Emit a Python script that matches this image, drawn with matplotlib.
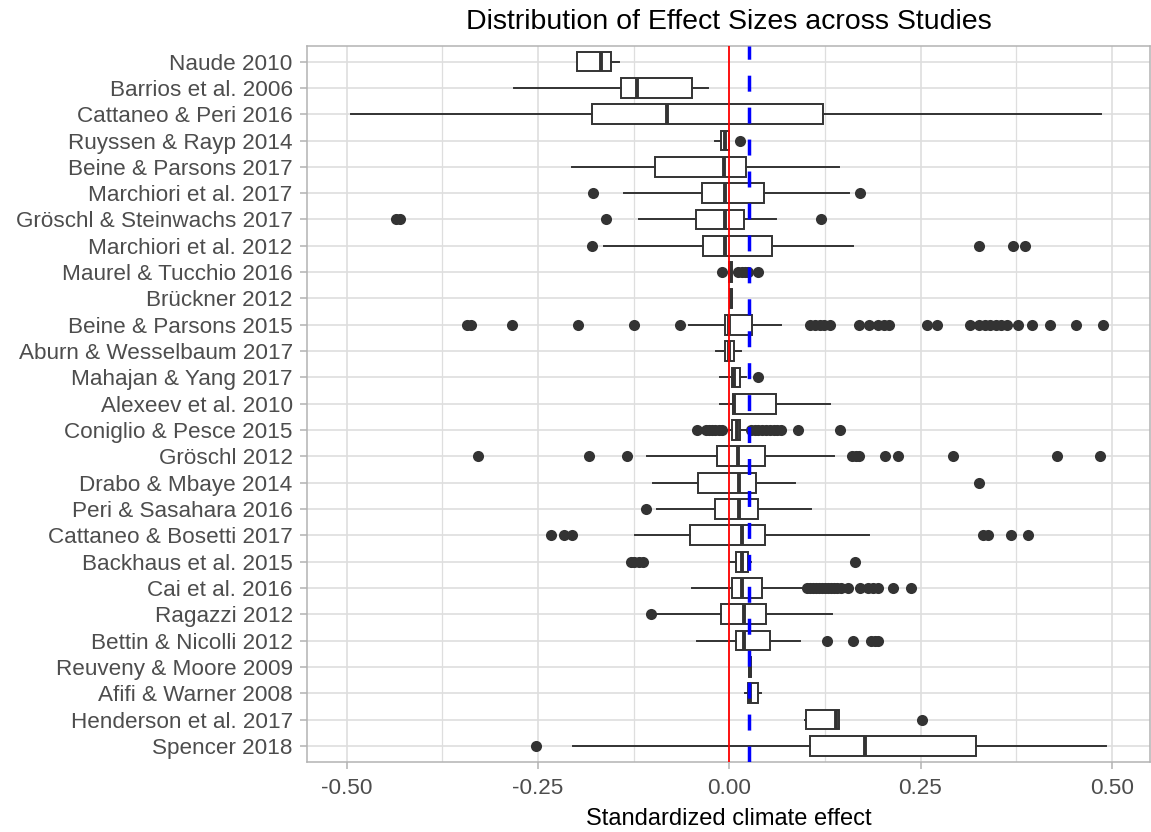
import matplotlib
matplotlib.use("Agg")
import matplotlib.pyplot as plt
import numpy as np

plt.rcParams['font.family'] = ['Liberation Sans', 'DejaVu Sans']

# ---------------- data (top to bottom) ----------------
studies = [
    "Naude 2010", "Barrios et al. 2006", "Cattaneo & Peri 2016", "Ruyssen & Rayp 2014",
    "Beine & Parsons 2017", "Marchiori et al. 2017", "Gröschl & Steinwachs 2017",
    "Marchiori et al. 2012", "Maurel & Tucchio 2016", "Brückner 2012",
    "Beine & Parsons 2015", "Aburn & Wesselbaum 2017", "Mahajan & Yang 2017",
    "Alexeev et al. 2010", "Coniglio & Pesce 2015", "Gröschl 2012", "Drabo & Mbaye 2014",
    "Peri & Sasahara 2016", "Cattaneo & Bosetti 2017", "Backhaus et al. 2015",
    "Cai et al. 2016", "Ragazzi 2012", "Bettin & Nicolli 2012", "Reuveny & Moore 2009",
    "Afifi & Warner 2008", "Henderson et al. 2017", "Spencer 2018",
]
whislo = [-0.199, -0.282, -0.494, -0.019, -0.206, -0.138, -0.118, -0.164, -0.001, 0.001,
          -0.052, -0.017, -0.0115, -0.0115, -0.004, -0.107, -0.100, -0.095, -0.123, 0.0013,
          -0.049, -0.096, -0.042, 0.026, 0.020, 0.099, -0.204]
q1 = [-0.199, -0.142, -0.180, -0.011, -0.097, -0.036, -0.044, -0.034, -0.001, 0.001,
      -0.005, -0.0055, 0.004, 0.0045, 0.004, -0.016, -0.041, -0.018, -0.051, 0.009,
      0.004, -0.011, 0.009, 0.026, 0.024, 0.100, 0.1055]
median = [-0.168, -0.1205, -0.082, -0.006, -0.007, -0.005, -0.005, -0.005, 0.001, 0.002,
          -0.001, -0.001, 0.006, 0.006, 0.0095, 0.011, 0.013, 0.013, 0.016, 0.016,
          0.016, 0.019, 0.019, 0.027, 0.027, 0.139, 0.178]
q3 = [-0.154, -0.0486, 0.123, -0.001, 0.022, 0.045, 0.019, 0.0555, 0.003, 0.004,
      0.030, 0.0068, 0.0146, 0.0605, 0.0146, 0.047, 0.035, 0.0375, 0.047, 0.025,
      0.0426, 0.048, 0.053, 0.028, 0.038, 0.144, 0.323]
whishi = [-0.144, -0.0277, 0.486, -0.001, 0.144, 0.157, 0.061, 0.162, 0.003, 0.004,
          0.068, 0.015, 0.022, 0.132, 0.022, 0.137, 0.086, 0.107, 0.182, 0.029,
          0.097, 0.134, 0.093, 0.028, 0.041, 0.144, 0.493]
outliers = [
    [],
    [],
    [],
    [0.014],
    [],
    [-0.178, 0.171],
    [-0.436, -0.430, -0.161, 0.120],
    [-0.180, 0.327, 0.371, 0.386],
    [-0.010, 0.012, 0.016, 0.020, 0.024, 0.037],
    [],
    [-0.343, -0.337, -0.284, -0.198, -0.124, -0.064, 0.105, 0.112, 0.118, 0.124, 0.131,
     0.169, 0.182, 0.195, 0.202, 0.209, 0.259, 0.272, 0.314, 0.327, 0.334, 0.341, 0.348,
     0.355, 0.363, 0.378, 0.396, 0.419, 0.453, 0.488],
    [],
    [0.0375],
    [],
    [-0.042, -0.030, -0.026, -0.022, -0.018, -0.014, -0.010, 0.028, 0.033, 0.038, 0.043,
     0.048, 0.053, 0.058, 0.063, 0.067, 0.090, 0.145],
    [-0.329, -0.183, -0.134, 0.160, 0.166, 0.170, 0.204, 0.220, 0.293, 0.428, 0.485],
    [0.327],
    [-0.109],
    [-0.233, -0.216, -0.205, 0.332, 0.338, 0.368, 0.390],
    [-0.129, -0.124, -0.118, -0.113, 0.164],
    [0.101, 0.105, 0.109, 0.113, 0.117, 0.121, 0.125, 0.129, 0.133, 0.137, 0.141, 0.146,
     0.155, 0.171, 0.181, 0.188, 0.195, 0.214, 0.237],
    [-0.102],
    [0.128, 0.162, 0.185, 0.190, 0.195],
    [],
    [],
    [0.252],
    [-0.253],
]
mean_effect = 0.0256
x_ticks = [-0.50, -0.25, 0.00, 0.25, 0.50]
x_tick_labels = ["-0.50", "-0.25", "0.00", "0.25", "0.50"]

# ---------------- figure ----------------
fig = plt.figure(figsize=(11.51, 8.32), dpi=100)
ax = fig.add_axes([0.267, 0.0845, 0.732, 0.8605])

n = len(studies)
positions = np.arange(n, 0, -1)
stats = []
for i in range(n):
    stats.append(dict(whislo=whislo[i], q1=q1[i], med=median[i], q3=q3[i],
                      whishi=whishi[i], fliers=np.array(outliers[i]), label=studies[i]))

dark = "#333333"
ax.bxp(stats, positions=positions, orientation='horizontal', widths=0.75,
       patch_artist=True, showcaps=False,
       boxprops=dict(facecolor="white", edgecolor=dark, linewidth=1.4),
       medianprops=dict(color=dark, linewidth=2.8, solid_capstyle='butt'),
       whiskerprops=dict(color=dark, linewidth=1.4),
       flierprops=dict(marker='o', markerfacecolor=dark, markeredgecolor=dark,
                       markeredgewidth=0, markersize=8.0),
       zorder=3)

ax.axvline(0, color="#FF0000", linewidth=1.3, zorder=4)
ax.axvline(mean_effect, color="#0000FF", linewidth=2.5, linestyle=(0, (4.6, 4.6)), zorder=4)

ax.set_xlim(-0.5515, 0.5497)
ax.set_ylim(0.4, n + 0.6)
ax.set_yticks(positions)
ax.set_yticklabels(studies)
ax.set_xticks(x_ticks)
ax.set_xticklabels(x_tick_labels)
ax.set_xticks([-0.375, -0.125, 0.125, 0.375], minor=True)

ax.grid(True, which='major', color="#DEDEDE", linewidth=1.2, zorder=0)
ax.grid(True, which='minor', axis='x', color="#DEDEDE", linewidth=0.9, zorder=0)
ax.set_axisbelow(True)

for s in ax.spines.values():
    s.set_color("#B3B3B3")
    s.set_linewidth(1.1)

ax.tick_params(axis='both', which='major', length=5, width=1.1, color="#B3B3B3",
               labelcolor="#4D4D4D", labelsize=16.2)
ax.tick_params(axis='y', pad=5.5)
ax.tick_params(axis='x', pad=7)
ax.tick_params(axis='x', which='minor', length=0)

ax.set_xlabel("Standardized climate effect", fontsize=17, color="black", labelpad=6)
ax.set_title("Distribution of Effect Sizes across Studies", fontsize=20.5, color="black", pad=12)

fig.savefig("out.png", dpi=100)
